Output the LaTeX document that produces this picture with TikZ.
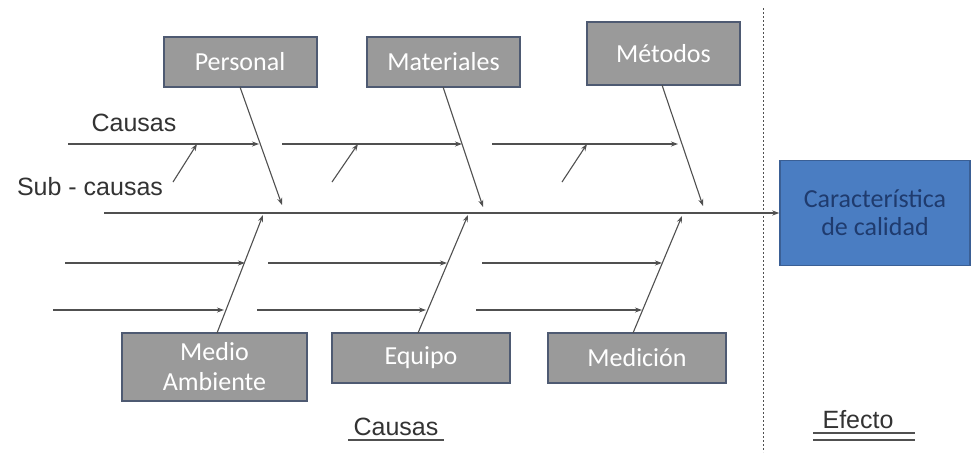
\documentclass[tikz,border=0pt]{standalone}
\usepackage{fontspec}
\setmainfont{Liberation Sans}
\newfontfamily\boxfont{Carlito}
\usetikzlibrary{arrows.meta}
\definecolor{boxgray}{HTML}{9A9A9A}
\definecolor{boxedge}{HTML}{4E5A72}
\definecolor{effblue}{HTML}{4A7DC2}
\definecolor{effedge}{HTML}{3A5F95}
\definecolor{efftext}{HTML}{1F3B6E}
\definecolor{bone}{HTML}{505050}
\tikzset{
  catbox/.style={draw=boxedge, line width=2pt, fill=boxgray, text=white,
    font=\boxfont\fontsize{26}{30}\selectfont, align=center, inner sep=0pt},
  effbox/.style={draw=effedge, line width=1.5pt, fill=effblue, text=efftext,
    font=\boxfont\fontsize{26}{28}\selectfont, align=center, inner sep=0pt},
  arr/.style={draw=bone, line width=1.1pt, -{Stealth[length=7pt,width=5pt]}},
  plain/.style={draw=bone, line width=1.1pt},
  lbl/.style={font=\fontsize{25}{28}\selectfont, text=black!80, inner sep=0pt}
}
\begin{document}
\begin{tikzpicture}[x=1pt,y=-1pt]
\useasboundingbox (0,0) rectangle (971,459);
\fill[white] (0,0) rectangle (971,459);

% cause categories
\node[catbox, minimum width=153pt, minimum height=50pt] (per) at (240,62) {Personal};
\node[catbox, minimum width=153pt, minimum height=50pt] (mat) at (443.5,62) {Materiales};
\node[catbox, minimum width=153pt, minimum height=63pt] (met) at (663.5,53.5) {Métodos};
\node[catbox, minimum width=185pt, minimum height=68pt] (med) at (214.5,367) {Medio\\Ambiente};
\node[catbox, minimum width=178pt, minimum height=50pt] (equ) at (421,358) {Equipo};
\node[catbox, minimum width=178pt, minimum height=50pt] (mcn) at (637,358) {Medición};

% effect
\node[effbox, minimum width=190pt, minimum height=105pt] (eff) at (875,213) {Característica\\de calidad};

% spine
\coordinate (spL) at (104,213);
\draw[arr] (spL) -- (eff.west);

% effect / causes separator
\coordinate (sepT) at (763,8);
\coordinate (sepB) at (763,452);
\draw[bone, line width=1pt, dash pattern=on 2pt off 2pt] (sepT) -- (sepB);

% main bones
\coordinate (bPer) at (282,205);
\coordinate (bMat) at (483,207);
\coordinate (bMet) at (703,206);
\coordinate (bMed) at (263,215);
\coordinate (bEqu) at (468,215);
\coordinate (bMcn) at (682,216);
\draw[arr] (240,87) -- (bPer);
\draw[arr] (443,87) -- (bMat);
\draw[arr] (662,85) -- (bMet);
\draw[arr] (217,333) -- (bMed);
\draw[arr] (418,333) -- (bEqu);
\draw[arr] (633,333) -- (bMcn);

% upper causes
\coordinate (u1a) at (68,144);  \coordinate (u1b) at (259,144);
\coordinate (u2a) at (282,144); \coordinate (u2b) at (462,144);
\coordinate (u3a) at (492,144); \coordinate (u3b) at (678,144);
\draw[arr] (u1a) -- (u1b);
\draw[arr] (u2a) -- (u2b);
\draw[arr] (u3a) -- (u3b);

% sub-causes
\coordinate (s1a) at (173,182); \coordinate (s1b) at (197,144);
\coordinate (s2a) at (332,182); \coordinate (s2b) at (358,144);
\coordinate (s3a) at (562,182); \coordinate (s3b) at (587,144);
\draw[arr] (s1a) -- (s1b);
\draw[arr] (s2a) -- (s2b);
\draw[arr] (s3a) -- (s3b);

% lower causes
\coordinate (l1a) at (65,263);  \coordinate (l1b) at (245,263);
\coordinate (l2a) at (268,263); \coordinate (l2b) at (447,263);
\coordinate (l3a) at (482,263); \coordinate (l3b) at (662,263);
\coordinate (l4a) at (53,310);  \coordinate (l4b) at (224,310);
\coordinate (l5a) at (257,310); \coordinate (l5b) at (426,310);
\coordinate (l6a) at (476,310); \coordinate (l6b) at (642,310);
\draw[arr] (l1a) -- (l1b);
\draw[arr] (l2a) -- (l2b);
\draw[arr] (l3a) -- (l3b);
\draw[arr] (l4a) -- (l4b);
\draw[arr] (l5a) -- (l5b);
\draw[arr] (l6a) -- (l6b);

% labels
\node[lbl, anchor=base] (tCau) at (134,131) {Causas};
\node[lbl, anchor=base] (tSub) at (90,195) {Sub - causas};
\node[lbl, anchor=base] (tCauB) at (396,435) {Causas};
\node[lbl, anchor=base] (tEfe) at (858,428) {Efecto};

% underlines
\coordinate (uc1) at (348,440); \coordinate (uc2) at (444,440);
\draw[plain, line width=1.4pt] (uc1) -- (uc2);
\coordinate (ue1) at (813,433); \coordinate (ue2) at (915,433);
\coordinate (ue3) at (813,440); \coordinate (ue4) at (915,440);
\draw[plain, line width=1.4pt] (ue1) -- (ue2);
\draw[plain, line width=1.4pt] (ue3) -- (ue4);
\end{tikzpicture}
\end{document}
